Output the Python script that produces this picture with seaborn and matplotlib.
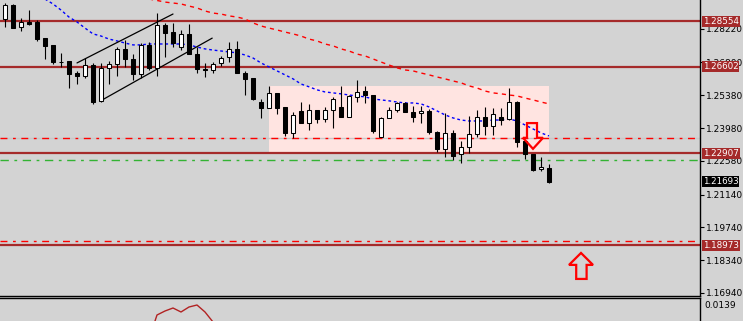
import numpy as np
import pandas as pd
import matplotlib
matplotlib.use("Agg")
import matplotlib.pyplot as plt
import seaborn as sns
from matplotlib.patches import Rectangle, Polygon

# ---------------- data ----------------
opens = [1.2865, 1.2925, 1.2831, 1.2852, 1.2852, 1.2783, 1.2754, 1.2681, 1.2685, 1.2634,
         1.2621, 1.2668, 1.2514, 1.2655, 1.2672, 1.2736, 1.2694, 1.2630, 1.2754, 1.2655,
         1.2839, 1.2809, 1.2745, 1.2801, 1.2715, 1.2651, 1.2647, 1.2677, 1.2702, 1.2736,
         1.2634, 1.2613, 1.2510, 1.2484, 1.2548, 1.2489, 1.2378, 1.2472, 1.2420, 1.2476,
         1.2438, 1.2476, 1.2489, 1.2446, 1.2531, 1.2557, 1.2540, 1.2361, 1.2442, 1.2476,
         1.2506, 1.2467, 1.2463, 1.2472, 1.2382, 1.2310, 1.2378, 1.2288, 1.2318, 1.2374,
         1.2446, 1.2408, 1.2446, 1.2438, 1.2510, 1.2344, 1.2288, 1.2224, 1.2229]
highs = [1.2933, 1.2929, 1.2869, 1.2903, 1.2861, 1.2783, 1.2754, 1.2719, 1.2685, 1.2643,
         1.2698, 1.2677, 1.2677, 1.2685, 1.2745, 1.2775, 1.2715, 1.2762, 1.2766, 1.2890,
         1.2848, 1.2848, 1.2818, 1.2843, 1.2745, 1.2677, 1.2681, 1.2707, 1.2766, 1.2771,
         1.2643, 1.2613, 1.2523, 1.2578, 1.2548, 1.2489, 1.2467, 1.2510, 1.2502, 1.2476,
         1.2489, 1.2531, 1.2578, 1.2540, 1.2604, 1.2578, 1.2540, 1.2446, 1.2489, 1.2510,
         1.2510, 1.2493, 1.2493, 1.2480, 1.2386, 1.2463, 1.2391, 1.2344, 1.2450, 1.2476,
         1.2489, 1.2484, 1.2484, 1.2570, 1.2514, 1.2344, 1.2288, 1.2276, 1.2246]
lows = [1.2831, 1.2826, 1.2813, 1.2839, 1.2771, 1.2694, 1.2672, 1.2660, 1.2570, 1.2587,
        1.2613, 1.2502, 1.2510, 1.2587, 1.2621, 1.2660, 1.2604, 1.2613, 1.2647, 1.2621,
        1.2702, 1.2745, 1.2732, 1.2715, 1.2634, 1.2617, 1.2634, 1.2664, 1.2681, 1.2634,
        1.2540, 1.2519, 1.2442, 1.2484, 1.2459, 1.2365, 1.2357, 1.2420, 1.2391, 1.2420,
        1.2425, 1.2399, 1.2446, 1.2446, 1.2510, 1.2506, 1.2378, 1.2361, 1.2442, 1.2467,
        1.2467, 1.2425, 1.2420, 1.2374, 1.2297, 1.2276, 1.2263, 1.2250, 1.2293, 1.2361,
        1.2369, 1.2369, 1.2412, 1.2433, 1.2318, 1.2267, 1.2216, 1.2216, 1.2165]
closes = [1.2925, 1.2826, 1.2852, 1.2843, 1.2779, 1.2749, 1.2681, 1.2679, 1.2630, 1.2621,
          1.2668, 1.2510, 1.2655, 1.2672, 1.2736, 1.2694, 1.2630, 1.2754, 1.2655, 1.2839,
          1.2805, 1.2762, 1.2801, 1.2715, 1.2651, 1.2647, 1.2672, 1.2698, 1.2736, 1.2634,
          1.2608, 1.2523, 1.2484, 1.2548, 1.2484, 1.2378, 1.2455, 1.2420, 1.2476, 1.2438,
          1.2476, 1.2523, 1.2446, 1.2536, 1.2553, 1.2540, 1.2386, 1.2442, 1.2476, 1.2506,
          1.2467, 1.2446, 1.2472, 1.2382, 1.2310, 1.2378, 1.2280, 1.2318, 1.2374, 1.2446,
          1.2408, 1.2459, 1.2433, 1.2510, 1.2340, 1.2288, 1.2220, 1.2233, 1.2169]

ma_fast_start = 5
ma_fast = [1.2950, 1.2929, 1.2903, 1.2873, 1.2852, 1.2826, 1.2801, 1.2792, 1.2779, 1.2771, 1.2762,
           1.2754, 1.2754, 1.2758, 1.2758, 1.2758, 1.2758, 1.2758, 1.2754, 1.2745, 1.2737,
           1.2732, 1.2728, 1.2724, 1.2720, 1.2711, 1.2698, 1.2677, 1.2660, 1.2643, 1.2626,
           1.2609, 1.2587, 1.2575, 1.2562, 1.2553, 1.2549, 1.2545, 1.2540, 1.2536, 1.2532,
           1.2523, 1.2519, 1.2515, 1.2510, 1.2506, 1.2506, 1.2502, 1.2489, 1.2472, 1.2455,
           1.2442, 1.2433, 1.2429, 1.2429, 1.2429, 1.2433, 1.2433, 1.2438, 1.2429, 1.2412,
           1.2395, 1.2378, 1.2365]
ma_slow_start = 18
ma_slow = [1.2950, 1.2944, 1.2937, 1.2933, 1.2929, 1.2920, 1.2912, 1.2899, 1.2890, 1.2886,
           1.2878, 1.2873, 1.2865, 1.2848, 1.2835, 1.2826, 1.2818, 1.2809, 1.2801, 1.2792,
           1.2779, 1.2771, 1.2758, 1.2750, 1.2737, 1.2728, 1.2715, 1.2707, 1.2694, 1.2681,
           1.2668, 1.2656, 1.2647, 1.2643, 1.2634, 1.2626, 1.2617, 1.2609, 1.2600, 1.2592,
           1.2579, 1.2570, 1.2557, 1.2549, 1.2545, 1.2540, 1.2536, 1.2527, 1.2519, 1.2510,
           1.2502]

osc_start = 18
osc = [0.0105, 0.0129, 0.0133, 0.0136, 0.0132, 0.0137, 0.0139, 0.0132, 0.0122, 0.0105]

levels = [1.28554, 1.26602, 1.22907, 1.18973]
red_dashdot = [1.2357, 1.1917]
green_dash = 1.2262
last_price = 1.21693
tick_values = [1.28220, 1.26800, 1.25380, 1.23980, 1.22580, 1.21140, 1.19740, 1.18340, 1.16940]

channel_upper = ([9.0, 21.0], [1.2677, 1.2886])
channel_lower = ([11.9, 25.9], [1.2514, 1.2783])
range_box = (33.0, 68.0, 1.2293, 1.2578)   # x0, x1, y0, y1
down_arrow_x = [65.25, 66.5, 66.5, 67.25, 66.0, 64.75, 65.25]
down_arrow_y = [1.2420, 1.2420, 1.2357, 1.2357, 1.2310, 1.2357, 1.2357]
up_arrow_x = [71.4, 72.7, 72.7, 73.5, 72.0, 70.5, 71.4]
up_arrow_y = [1.1754, 1.1754, 1.1814, 1.1814, 1.1865, 1.1814, 1.1814]

# ---------------- figure ----------------
sns.set_theme(style="white")
plt.rcParams["font.family"] = ["DejaVu Sans"]
BG = "#D3D3D3"
LEVEL = "#A52A2A"
W, H = 743, 321
fig = plt.figure(figsize=(W / 100, H / 100), dpi=100, facecolor=BG)
ax = fig.add_axes([0, 25 / H, 700 / W, 296 / H], facecolor=BG)
ax2 = fig.add_axes([0, 0, 700 / W, 23 / H], facecolor=BG)

n = len(opens)
idx = np.arange(n)
df = pd.DataFrame({"i": idx, "open": opens, "high": highs, "low": lows, "close": closes})

# range rectangle
x0, x1, y0, y1 = range_box
ax.add_patch(Rectangle((x0, y0), x1 - x0, y1 - y0, facecolor="#FFE4E1", edgecolor="none", zorder=0.5))

# horizontal lines
ax.axhline(red_dashdot[0], color="#C8C8C8", lw=1, zorder=0.8)
for lv in red_dashdot:
    ax.axhline(lv, color="#FF0000", lw=1, linestyle=(0, (5, 4, 2, 4)), zorder=0.9)
ax.axhline(green_dash, color="#33B333", lw=1, linestyle=(0, (6, 4, 2, 4)), zorder=0.9)
for lv in levels:
    ax.axhline(lv, color=LEVEL, lw=1.6, zorder=1)

# moving averages
fast = pd.DataFrame({"i": np.arange(ma_fast_start, ma_fast_start + len(ma_fast)), "v": ma_fast})
slow = pd.DataFrame({"i": np.arange(ma_slow_start, ma_slow_start + len(ma_slow)), "v": ma_slow})
sns.lineplot(data=fast, x="i", y="v", ax=ax, color="#0000FF", lw=1, linestyle=(0, (2, 2)), zorder=1.5)
sns.lineplot(data=slow, x="i", y="v", ax=ax, color="#FF0000", lw=1, linestyle=(0, (3, 3)), zorder=1.5)

# candles
ax.vlines(df["i"], df["low"], df["high"], color="black", lw=0.8, zorder=2)
bull = df["close"] >= df["open"]
bottoms = np.minimum(df["open"], df["close"])
heights = np.maximum(np.abs(df["close"] - df["open"]), 0.00025)
ax.bar(df["i"][bull], heights[bull], bottom=bottoms[bull], width=0.6,
       color="white", edgecolor="black", linewidth=0.75, zorder=3)
ax.bar(df["i"][~bull], heights[~bull], bottom=bottoms[~bull], width=0.6,
       color="black", edgecolor="black", linewidth=0.75, zorder=3)

# channel
ax.plot(*channel_upper, color="black", lw=0.9, zorder=2.5)
ax.plot(*channel_lower, color="black", lw=0.9, zorder=2.5)

# arrows
ax.add_patch(Polygon(np.column_stack([down_arrow_x, down_arrow_y]), closed=True,
                     fill=False, edgecolor="#FF0000", lw=1.6, zorder=4))
ax.add_patch(Polygon(np.column_stack([up_arrow_x, up_arrow_y]), closed=True,
                     fill=False, edgecolor="#FF0000", lw=1.6, zorder=4))

ax.set_xlim(-0.625, 86.875)
ax.set_ylim(1.16811, 1.29459)
ax.set_xlabel("")
ax.set_ylabel("")
ax.set_xticks([])
ax.yaxis.tick_right()
ax.set_yticks(tick_values)
ax.set_yticklabels([f"{t:.5f}" for t in tick_values])
ax.tick_params(axis="y", right=True, length=3, width=0.8, color="black", pad=1.5,
               labelsize=6.5, labelcolor="black", direction="out")
for s in ["left", "top"]:
    ax.spines[s].set_visible(False)
for s in ["right", "bottom"]:
    ax.spines[s].set_visible(True)
    ax.spines[s].set_color("black")
    ax.spines[s].set_linewidth(1)

# price labels on the axis
for lv in levels:
    ax.annotate(f"{lv:.5f}", xy=(1, lv), xycoords=("axes fraction", "data"),
                xytext=(1.9, 0), textcoords="offset points", ha="left", va="center",
                fontsize=6.3, color="white", zorder=10, annotation_clip=False,
                bbox=dict(boxstyle="square,pad=0.12", fc=LEVEL, ec="none"))
ax.annotate(f"{last_price:.5f}", xy=(1, last_price), xycoords=("axes fraction", "data"),
            xytext=(1.9, 0), textcoords="offset points", ha="left", va="center",
            fontsize=6.3, color="white", zorder=10, annotation_clip=False,
            bbox=dict(boxstyle="square,pad=0.12", fc="black", ec="none"))

# indicator sub-window
oscdf = pd.DataFrame({"i": np.arange(osc_start, osc_start + len(osc)), "v": osc})
sns.lineplot(data=oscdf, x="i", y="v", ax=ax2, color="#B22222", lw=1)
ax2.set_xlim(-0.625, 86.875)
ax2.set_ylim(0.0123, 0.0146)
ax2.set_xlabel("")
ax2.set_ylabel("")
ax2.set_xticks([])
ax2.yaxis.tick_right()
ax2.set_yticks([0.0139])
ax2.set_yticklabels(["0.0139"])
ax2.tick_params(axis="y", right=True, length=0, pad=3, labelsize=6.5, labelcolor="black")
for s in ["left", "bottom"]:
    ax2.spines[s].set_visible(False)
for s in ["right", "top"]:
    ax2.spines[s].set_visible(True)
    ax2.spines[s].set_color("black")
    ax2.spines[s].set_linewidth(1)

fig.savefig("out.png", dpi=100, facecolor=BG)
